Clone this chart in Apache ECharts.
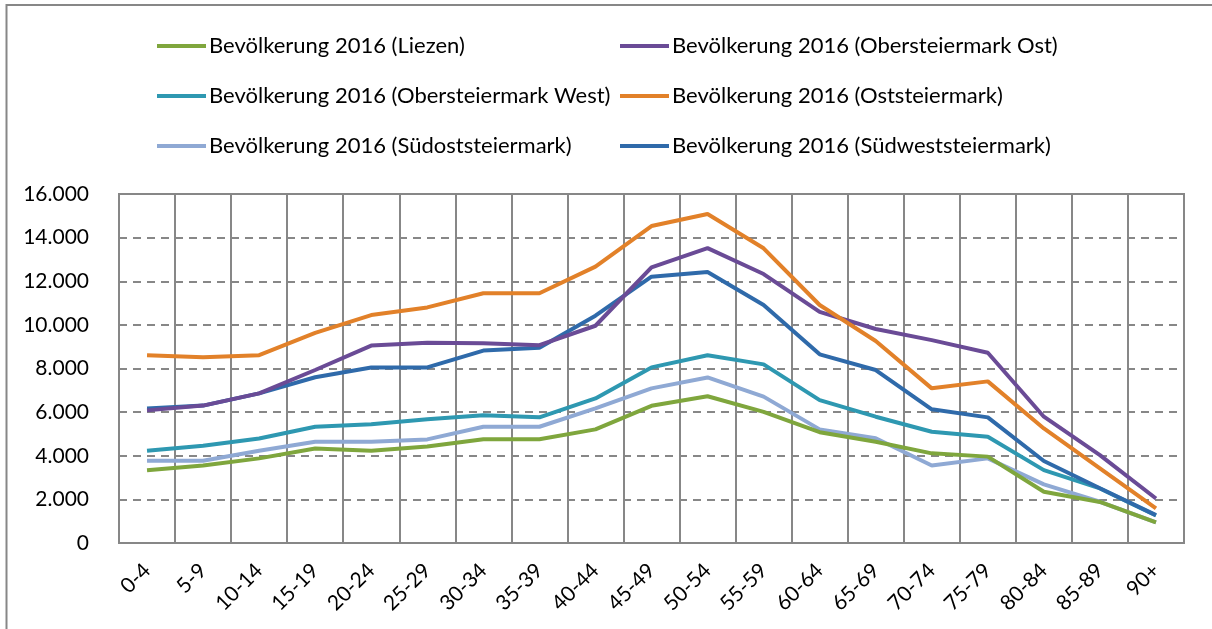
<!DOCTYPE html>
<html>
<head>
<meta charset="utf-8">
<script src="https://cdn.jsdelivr.net/npm/echarts@6/dist/echarts.min.js"></script>
<style>
html,body{margin:0;padding:0;background:#fff;}
#chart{width:1212px;height:629px;}
</style>
</head>
<body>
<div id="chart"></div>
<script>
const categories = ['0-4','5-9','10-14','15-19','20-24','25-29','30-34','35-39','40-44','45-49','50-54','55-59','60-64','65-69','70-74','75-79','80-84','85-89','90+'];
const yTicks = [0,2000,4000,6000,8000,10000,12000,14000,16000];

const seriesNames = [
  'Bevölkerung 2016 (Liezen)',
  'Bevölkerung 2016 (Obersteiermark Ost)',
  'Bevölkerung 2016 (Obersteiermark West)',
  'Bevölkerung 2016 (Oststeiermark)',
  'Bevölkerung 2016 (Südoststeiermark)',
  'Bevölkerung 2016 (Südweststeiermark)'
];
const liezen = [3340,3550,3880,4330,4230,4420,4760,4760,5210,6290,6730,6010,5080,4640,4110,3960,2350,1880,950];
const obersteiermarkOst = [6080,6300,6860,7930,9050,9180,9160,9070,9960,12640,13520,12330,10600,9810,9300,8720,5790,4030,2040];
const obersteiermarkWest = [4230,4460,4790,5330,5440,5670,5860,5760,6630,8050,8610,8190,6550,5790,5100,4870,3340,2500,1260];
const oststeiermark = [8610,8520,8610,9630,10450,10800,11450,11450,12670,14530,15080,13510,10910,9260,7090,7410,5250,3420,1590];
const suedoststeiermark = [3770,3770,4230,4640,4640,4750,5330,5330,6170,7090,7590,6710,5210,4800,3550,3880,2690,1890,950];
const suedweststeiermark = [6170,6300,6860,7600,8050,8050,8820,8950,10420,12210,12420,10910,8650,7930,6130,5760,3760,2510,1280];

const seriesData = [liezen, obersteiermarkOst, obersteiermarkWest, oststeiermark, suedoststeiermark, suedweststeiermark];
const colors = ['#7fa63d','#6a4b96','#2e98b1','#e28129','#8fa9d4','#2f6aaa'];

const FONT = 'Lato, "Liberation Sans", sans-serif';

const chart = echarts.init(document.getElementById('chart'), null, {renderer:'canvas'});
const legendCommon = {
  orient: 'vertical', top: 35, itemGap: 28, padding: 0,
  itemWidth: 49, itemHeight: 4, icon: 'rect', itemStyle:{borderWidth:0},
  textStyle: {fontFamily: FONT, fontSize: 22, color: '#000', padding:[0,0,0,-2]}
};
const option = {
  backgroundColor: '#fff',
  animation: false,
  color: colors,
  graphic: [{
    type: 'rect',
    shape: {x: 6.5, y: 5, width: 1300, height: 700},
    style: {fill: 'none', stroke: '#878787', lineWidth: 2},
    silent: true, z: 100
  }],
  legend: [
    Object.assign({data: [seriesNames[0], seriesNames[2], seriesNames[4]], left: 157}, legendCommon),
    Object.assign({data: [seriesNames[1], seriesNames[3], seriesNames[5]], left: 620}, legendCommon)
  ],
  grid: {left: 119, right: 28, top: 194, bottom: 86, show: true, borderColor: '#878787', borderWidth: 2, containLabel: false},
  xAxis: {
    type: 'category',
    data: categories,
    boundaryGap: true,
    axisLine: {show: true, lineStyle: {color: '#878787', width: 2}},
    axisTick: {show: false},
    splitLine: {show: true, lineStyle: {color: '#878787', width: 2, type: 'solid'}},
    axisLabel: {interval: 0, rotate: 45, margin: 24, fontFamily: FONT, fontSize: 21, color: '#000'}
  },
  yAxis: {
    type: 'value',
    min: 0, max: 16000, interval: 2000,
    axisLine: {show: true, lineStyle: {color: '#878787', width: 2}},
    axisTick: {show: false},
    splitLine: {show: true, lineStyle: {color: '#878787', width: 2, type: [8, 6]}},
    axisLabel: {
      margin: 30, fontFamily: FONT, fontSize: 21, color: '#000',
      formatter: v => yTicks.includes(v) ? (v === 0 ? '0' : (v/1000).toFixed(0) + '.000') : ''
    }
  },
  series: seriesNames.map((n, i) => ({
    name: n,
    type: 'line',
    data: seriesData[i],
    symbol: 'none',
    lineStyle: {width: 4, color: colors[i]},
    itemStyle: {color: colors[i]},
    z: [2,5,3,6,1,4][i]
  }))
};
chart.setOption(option);
</script>
</body>
</html>
